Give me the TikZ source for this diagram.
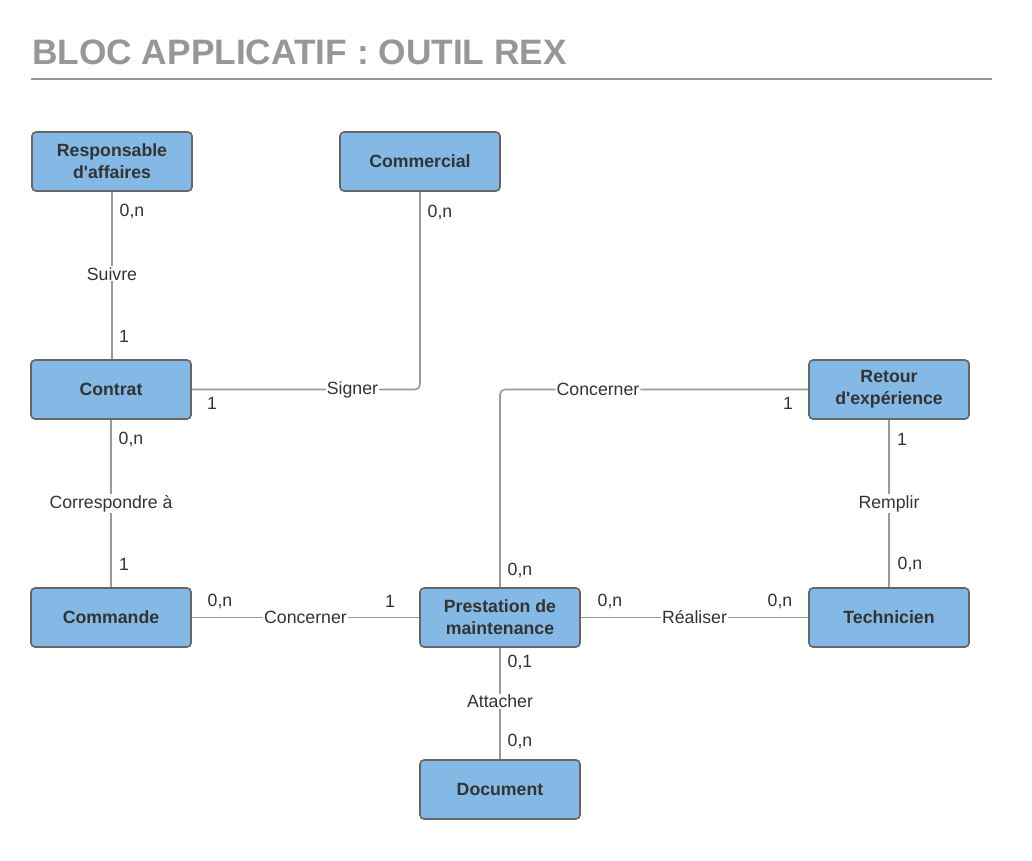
\documentclass[tikz,border=0pt]{standalone}
\usepackage{fontspec}
\setmainfont{Liberation Sans}
\definecolor{boxfill}{HTML}{83B9E4}
\definecolor{boxline}{HTML}{666666}
\definecolor{linegray}{HTML}{9A9A9A}
\definecolor{titlegray}{HTML}{979797}
\definecolor{txt}{HTML}{333333}
\begin{document}
\begin{tikzpicture}[x=1pt,y=-1pt,
  entity/.style={draw=boxline,fill=boxfill,line width=1.6pt,rounded corners=4pt,
    minimum width=160pt,minimum height=59pt,inner sep=2pt,align=center,
    font=\fontsize{17.7}{22}\selectfont\bfseries,text=txt},
  rel/.style={draw=linegray,line width=1.6pt},
  lab/.style={fill=white,inner sep=1pt,font=\fontsize{17.7}{20}\selectfont,text=txt},
  card/.style={inner sep=0pt,font=\fontsize{17.7}{20}\selectfont,text=txt}]
\useasboundingbox (0,0) rectangle (1032,860);
\fill[white] (0,0) rectangle (1032,860);
\node[anchor=base west,inner sep=0pt,text=titlegray,font=\fontsize{35.3}{40}\selectfont\bfseries] (title) at (32,64) {BLOC APPLICATIF : OUTIL REX};
\coordinate (tl1) at (31,79);
\coordinate (tl2) at (992,79);
\draw[draw=titlegray,line width=1.6pt] (tl1) -- (tl2);

\node[entity] (ra) at (112,161.5) {Responsable\\d\textquotesingle affaires};
\node[entity] (com) at (420,161.5) {Commercial};
\node[entity] (con) at (111,389.5) {Contrat};
\node[entity] (rex) at (889,389.5) {Retour\\d\textquotesingle expérience};
\node[entity] (cmd) at (111,617.5) {Commande};
\node[entity] (pm) at (500,617.5) {Prestation de\\maintenance};
\node[entity] (tec) at (889,617.5) {Technicien};
\node[entity] (doc) at (500,789.5) {Document};

% Suivre
\draw[rel] (ra.south) -- (con.north -| ra.south) node[lab,pos=0.49] (l1) {Suivre};
\node[card] (c1a) at (132,211) {0,n};
\node[card] (c1b) at (124,336) {1};
% Signer
\draw[rel,rounded corners=5pt] (com.south) |- (con.east) node[lab,pos=0.648] (l2) {Signer};
\node[card] (c2a) at (440,212) {0,n};
\node[card] (c2b) at (212,403) {1};
% Correspondre a
\draw[rel] (con.south) -- (cmd.north) node[lab,pos=0.5] (l3) {Correspondre à};
\node[card] (c3a) at (131,439) {0,n};
\node[card] (c3b) at (124,564) {1};
% Concerner (commande)
\draw[rel] (cmd.east) -- (pm.west) node[lab,pos=0.5] (l4) {Concerner};
\node[card] (c4a) at (220,601) {0,n};
\node[card] (c4b) at (390,601) {1};
% Concerner (rex)
\draw[rel,rounded corners=5pt] (pm.north) |- (rex.west) node[lab,pos=0.659] (l5) {Concerner};
\node[card] (c5a) at (520,570) {0,n};
\node[card] (c5b) at (788,403) {1};
% Remplir
\draw[rel] (rex.south) -- (tec.north) node[lab,pos=0.5] (l6) {Remplir};
\node[card] (c6a) at (902,439) {1};
\node[card] (c6b) at (910,564) {0,n};
% Realiser
\draw[rel] (pm.east) -- (tec.west) node[lab,pos=0.5] (l7) {Réaliser};
\node[card] (c7a) at (610,601) {0,n};
\node[card] (c7b) at (780,601) {0,n};
% Attacher
\draw[rel] (pm.south) -- (doc.north) node[lab,pos=0.48] (l8) {Attacher};
\node[card] (c8a) at (520,662) {0,1};
\node[card] (c8b) at (520,741) {0,n};
\end{tikzpicture}
\end{document}
